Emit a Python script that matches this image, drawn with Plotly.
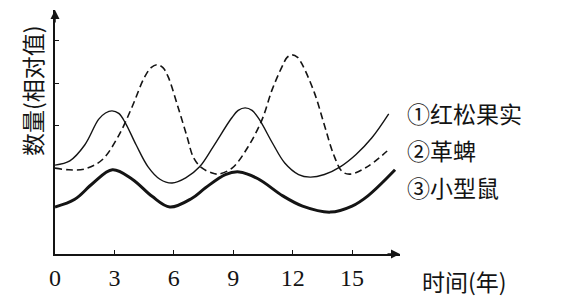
import plotly.graph_objects as go

# ---- data ----
x_pine = [0, 0.75, 1.5, 2.2, 2.55, 2.88, 3.22, 3.55, 4.1, 4.7, 5.3, 5.91, 6.6, 7.3, 8.0, 8.9,
          9.25, 9.6, 9.95, 10.3, 11.0, 11.6, 12.3, 12.88, 13.6, 14.4, 15.2, 16.0, 16.85]
y_pine = [2.08, 2.18, 2.55, 3.15, 3.30, 3.35, 3.29, 3.07, 2.55, 2.04, 1.75, 1.66, 1.78, 2.04,
          2.52, 3.17, 3.36, 3.42, 3.36, 3.16, 2.58, 2.13, 1.86, 1.80, 1.86, 2.04, 2.33, 2.72,
          3.28]

x_tick = [0, 0.7, 1.5, 2.37, 3.18, 3.89, 4.5, 4.85, 5.15, 5.45, 5.71, 6.21, 6.67, 7.0, 7.4,
          7.9, 8.23, 8.94, 9.75, 10.45, 10.96, 11.46, 11.72, 11.97, 12.25, 12.5, 13.1, 13.6,
          14.05, 14.5, 14.9, 15.76, 16.77]
y_tick = [2.01, 1.97, 1.99, 2.20, 2.74, 3.44, 4.12, 4.36, 4.43, 4.36, 4.15, 3.44, 2.74, 2.25,
          2.02, 1.90, 1.87, 2.01, 2.51, 3.14, 3.84, 4.38, 4.60, 4.66, 4.60, 4.42, 3.77, 3.02,
          2.35, 1.93, 1.87, 2.04, 2.41]

x_mouse = [0, 1.0, 1.9, 2.9, 3.9, 4.9, 5.8, 6.9, 7.6, 8.6, 9.3, 10.25, 11.5, 12.5, 13.9,
           15.0, 15.8, 17.17]
y_mouse = [1.10, 1.28, 1.65, 1.97, 1.75, 1.35, 1.10, 1.30, 1.55, 1.86, 1.92, 1.76, 1.36,
           1.12, 0.98, 1.12, 1.36, 1.97]

x_ticks = [0, 3, 6, 9, 12, 15]
y_ticks = [2, 3, 4, 5]
labels = ["①红松果实", "②革蜱", "③小型鼠"]
label_y = [0.578, 0.426, 0.275]

CJK = "Noto Sans CJK SC"
SERIF = "Liberation Serif"
INK = "#141414"

fig = go.Figure()
fig.add_trace(go.Scatter(x=x_pine, y=y_pine, mode="lines",
                         line=dict(color=INK, width=1.4, shape="spline", smoothing=1.0),
                         cliponaxis=False))
fig.add_trace(go.Scatter(x=x_tick, y=y_tick, mode="lines",
                         line=dict(color=INK, width=1.6, shape="spline", smoothing=1.0,
                                   dash="7px,4px"),
                         cliponaxis=False))
fig.add_trace(go.Scatter(x=x_mouse, y=y_mouse, mode="lines",
                         line=dict(color=INK, width=3.0, shape="spline", smoothing=1.0),
                         cliponaxis=False))

for t, yy in zip(labels, label_y):
    fig.add_annotation(text=t, x=1.014, y=yy, xref="paper", yref="paper",
                       xanchor="left", yanchor="middle", showarrow=False,
                       font=dict(family=CJK, size=23, color=INK))

fig.add_annotation(text="时间(年)", x=1.186, y=-0.111, xref="paper", yref="paper",
                   xanchor="center", yanchor="middle", showarrow=False,
                   font=dict(family=CJK, size=23, color=INK))
fig.add_annotation(text="数量(相对值)", x=-0.067, y=0.672, xref="paper", yref="paper",
                   xanchor="center", yanchor="middle", showarrow=False, textangle=-90,
                   font=dict(family=CJK, size=23, color=INK))

# axis arrowheads
fig.add_annotation(x=1, y=0, xref="paper", yref="paper", ax=-14, ay=0, text="",
                   showarrow=True, arrowhead=2, arrowsize=1.2, arrowwidth=1.5, arrowcolor=INK)
fig.add_annotation(x=0, y=1, xref="paper", yref="paper", ax=0, ay=14, text="",
                   showarrow=True, arrowhead=2, arrowsize=1.2, arrowwidth=1.5, arrowcolor=INK)

fig.update_xaxes(range=[0, 17.42], showgrid=False, zeroline=False, showline=True,
                 linecolor=INK, linewidth=1.5, ticks="inside", ticklen=4, tickwidth=1.2,
                 tickcolor=INK, tickvals=x_ticks, ticktext=[str(v) for v in x_ticks],
                 tickfont=dict(family=SERIF, size=24, color=INK), ticklabelstandoff=1)
fig.update_yaxes(range=[0, 5.71], showgrid=False, zeroline=False, showline=True,
                 linecolor=INK, linewidth=1.5, ticks="inside", ticklen=4, tickwidth=1.2,
                 tickcolor=INK, tickvals=y_ticks, showticklabels=False)

fig.update_layout(width=563, height=306, showlegend=False,
                  margin=dict(l=55, r=163, t=10, b=52),
                  paper_bgcolor="white", plot_bgcolor="white")

fig.write_html("out.html")
